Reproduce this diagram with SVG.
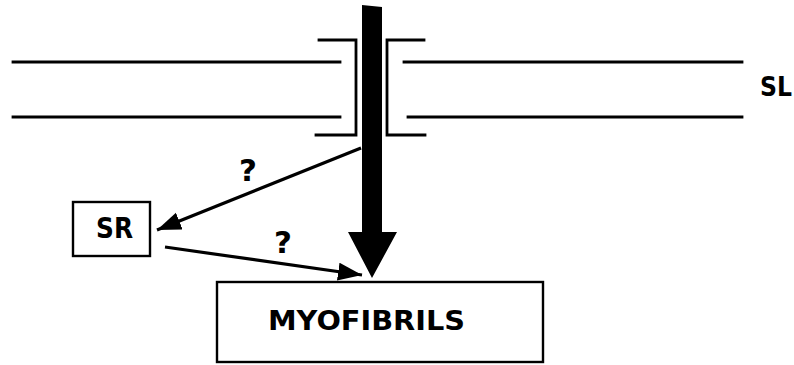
<svg xmlns="http://www.w3.org/2000/svg" width="794" height="365" viewBox="0 0 794 365">
<style>
.ln{stroke:#000;stroke-width:2.8;fill:none;stroke-linecap:square}
.cn{stroke:#000;stroke-width:3.2;fill:none}
.box{stroke:#000;stroke-width:2.4;fill:#fff}
.t{font-family:"DejaVu Sans","Liberation Sans",sans-serif;font-weight:bold;fill:#000}
</style>
<defs>
<marker id="ah" markerWidth="26" markerHeight="20" refX="24" refY="9" orient="auto" markerUnits="userSpaceOnUse">
<path d="M0,0 L24,9 L0,18 Z" fill="#000"/>
</marker>
</defs>
<rect width="794" height="365" fill="#fff"/>
<g id="membrane">
<line class="ln" x1="13" y1="62" x2="340" y2="62"/>
<line class="ln" x1="404" y1="62" x2="742" y2="62"/>
<line class="ln" x1="13" y1="117" x2="340" y2="117"/>
<line class="ln" x1="408" y1="117" x2="742" y2="117"/>
<path class="ln" d="M319,40 H356 V135 H316"/>
<path class="ln" d="M424,40 H387 V135 H425"/>
<text class="t" x="760" y="96" font-size="26" textLength="32" lengthAdjust="spacingAndGlyphs">SL</text>
</g>
<g id="SR">
<rect class="box" x="73" y="202" width="77" height="54"/>
<text class="t" x="96" y="238" font-size="28" textLength="37" lengthAdjust="spacingAndGlyphs">SR</text>
</g>
<g id="myofibrils">
<rect class="box" x="217" y="282" width="326" height="80"/>
<text class="t" x="268" y="330" font-size="26" textLength="197" lengthAdjust="spacingAndGlyphs">MYOFIBRILS</text>
</g>
<g id="connectors">
<polygon points="362,5 382,7 382,232 397,232 372,278 348,232 362,232" fill="#000"/>
<line class="cn" x1="361" y1="148" x2="157" y2="230" marker-end="url(#ah)"/>
<line class="cn" x1="165" y1="247" x2="362" y2="275" marker-end="url(#ah)"/>
<text class="t" x="248" y="181" font-size="31" text-anchor="middle">?</text>
<text class="t" x="283" y="253" font-size="31" text-anchor="middle">?</text>
</g>
</svg>
